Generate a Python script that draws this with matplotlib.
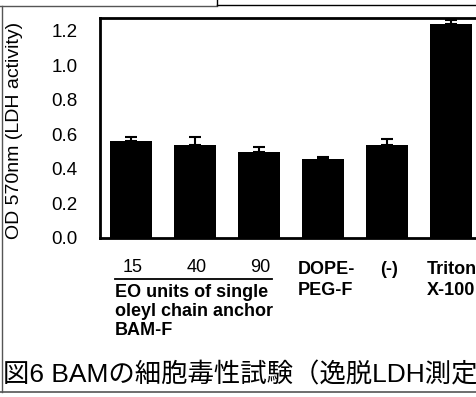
import matplotlib
matplotlib.use('Agg')
import matplotlib.pyplot as plt
from matplotlib.lines import Line2D

groups = ['15', '40', '90', 'DOPE-\nPEG-F', '(-)', 'Triton\nX-100']
od_values = [0.56, 0.54, 0.495, 0.455, 0.535, 1.24]
od_errors = [0.025, 0.045, 0.03, 0.015, 0.04, 0.02]
yticks = [0.0, 0.2, 0.4, 0.6, 0.8, 1.0, 1.2]
caption = '図6 BAMの細胞毒性試験（逸脱LDH測定'
group_note = 'EO units of single\noleyl chain anchor\nBAM-F'

W, H = 477, 397
fig = plt.figure(figsize=(W / 100, H / 100), dpi=100)
fig.patch.set_facecolor('white')

# axes in pixel terms: left spine x=100, bottom y=238, top y=18
px = 64.0  # pixels per category
x0 = -0.48
ax_left, ax_bottom, ax_top = 100, 238, 18
width_units = 6.2
ax = fig.add_axes([ax_left / W, 1 - ax_bottom / H, width_units * px / W,
                   (ax_bottom - ax_top) / H])
ax.set_xlim(x0, x0 + width_units)
ax.set_ylim(0, 1.272)

xs = list(range(len(groups)))
ax.bar(xs, od_values, width=0.66, color='black', zorder=2)
ax.errorbar(xs, od_values, yerr=[[0] * len(xs), od_errors], fmt='none',
            ecolor='black', elinewidth=1.5, capsize=4, capthick=1.5, zorder=3)

for s in ['top', 'left', 'bottom']:
    ax.spines[s].set_linewidth(2)
ax.spines['right'].set_visible(False)
ax.set_yticks(yticks)
ax.set_yticklabels([f'{v:.1f}' for v in yticks], family='Liberation Sans', fontsize=13.5)
ax.tick_params(axis='y', length=0, pad=16)
ax.set_xticks([])

fig.text(15 / W, 1 - 130 / H, 'OD 570nm (LDH activity)', rotation=90,
         ha='center', va='center', family='Liberation Sans', fontsize=14)

# category labels below the axis
def xpix(i):
    return (ax_left + (i - x0) * px) / W

for i, lab in enumerate(groups[:3]):
    fig.text(xpix(i) + 2 / W, 1 - 267 / H, lab, ha='center', va='center',
             family='Liberation Sans', fontsize=13)
fig.add_artist(Line2D([115 / W, 272 / W], [1 - 279 / H, 1 - 279 / H],
                      color='black', lw=1.3))
fig.text(115 / W, 1 - 284 / H, group_note, ha='left', va='top',
         family='Liberation Sans', fontsize=13, fontweight='bold',
         linespacing=1.15)
label_left = [298, 380, 427]
for left, lab in zip(label_left, groups[3:]):
    fig.text(left / W, 1 - 261 / H, lab, ha='left', va='top',
             family='Liberation Sans', fontsize=13, fontweight='bold',
             linespacing=1.3)

fig.text(3 / W, 1 - 375 / H, caption, ha='left', va='center',
         family=['Liberation Sans', 'Noto Sans CJK JP'], fontsize=19)

# scanned page frame lines
gray = '#555555'
fig.add_artist(Line2D([0, 217 / W], [1 - 6 / H, 1 - 6 / H], color=gray, lw=1))
fig.add_artist(Line2D([217 / W, 217 / W], [1, 1 - 5 / H], color='black', lw=1))
fig.add_artist(Line2D([217 / W, 1], [1 - 4.5 / H, 1 - 4.5 / H], color='black', lw=1))
fig.add_artist(Line2D([1.5 / W, 1.5 / W], [1 - 6 / H, 1 - 392 / H], color=gray, lw=1))
fig.add_artist(Line2D([0, 1], [1 - 392 / H, 1 - 392 / H], color=gray, lw=1.2))

fig.savefig('out.png', dpi=100, facecolor='white')
